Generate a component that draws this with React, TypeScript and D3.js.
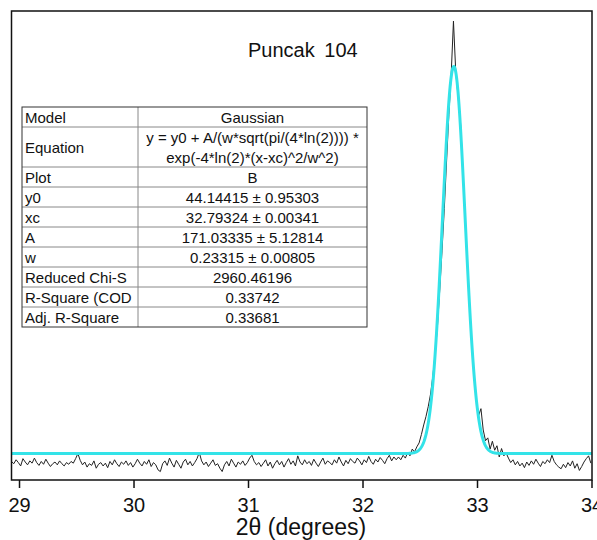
import React, { useMemo } from "react";
import * as d3 from "d3";

const width = 597;
const height = 540;

const chartTitle = "Puncak 104";
const xLabel = "2\u03b8 (degrees)";
const xTicks = [29, 30, 31, 32, 33, 34];

// measured pattern, 0.02 deg steps starting at 28.93
const twoThetaStart = 28.93;
const twoThetaStep = 0.02;

// 28.93 .. 32.29
const countsLow = [
  30, 26, 33, 28, 22, 35, 29, 24, 31, 27,
  36, 28, 23, 30, 25, 34, 27, 21, 26, 29,
  24, 31, 26, 22, 28, 25, 30, 27, 35, 44,
  32, 24, 29, 20, 26, 23, 31, 18, 25, 28,
  22, 27, 19, 30, 24, 33, 26, 21, 29, 25,
  31, 23, 28, 20, 26, 34, 27, 22, 30, 25,
  33, 21, 28, 24, 15, 12, 26, 31, 23, 36,
  27, 20, 32, 25, 18, 29, 34, 24, 30, 22,
  28, 35, 46, 31, 24, 29, 21, 27, 33, 23,
  26, 18, 12, 24, 30, 22, 34, 27, 20, 29,
  25, 31, 23, 28, 36, 41, 30, 24, 28, 21,
  27, 33, 22, 29, 18, 26, 32, 24, 30, 20,
  28, 35, 25, 31, 22, 40, 29, 24, 33, 26,
  30, 23, 34, 27, 21, 29, 36, 25, 31, 28,
  24, 33, 27, 38, 29, 22, 32, 26, 35, 30,
  27, 36, 31, 24, 33, 28, 39, 30, 25, 34,
  29, 37, 32, 26, 35, 41, 31, 38, 33,
];

// 32.31 .. 33.25
const countsPeak = [
  38, 33, 41, 36, 46, 40, 52, 47, 56, 63,
  78, 95, 110, 128, 150, 182, 222, 270, 335, 405,
  480, 565, 648, 718, 814, 724, 680, 640, 560, 470,
  385, 305, 238, 182, 140, 112, 124, 86, 67, 72,
  52, 66, 50, 58, 38, 53, 40, 45,
];

// 33.27 .. 33.99
const countsHigh = [
  36, 28, 33, 24, 30, 22, 27, 19, 29, 23,
  31, 25, 34, 27, 21, 30, 26, 33, 28, 41,
  30, 24, 20, 17, 25, 19, 28, 22, 31, 18,
  26, 14, 21, 29, 35, 40, 27,
];

// Gaussian fit results
const paramNames = ["y0", "xc", "A", "w"];
const paramValues = [44.14415, 32.79324, 171.03335, 0.23315];
const paramErrors = [0.95303, 0.00341, 5.12814, 0.00805];
const statNames = ["Reduced Chi-S", "R-Square (COD", "Adj. R-Square"];
const statValues = ["2960.46196", "0.33742", "0.33681"];

const font = "Arial, 'Liberation Sans', sans-serif";

export default function App() {
  const margin = { left: 11.5, right: 5, top: 11, bottom: 60 };
  const plotRight = width - margin.right;
  const plotBottom = height - margin.bottom;

  const x = d3.scaleLinear().domain([28.93, 34.0]).range([margin.left, plotRight]);
  const y = d3.scaleLinear().domain([-3, 832]).range([plotBottom, margin.top]);

  const counts = [...countsLow, ...countsPeak, ...countsHigh];
  const points = counts.map((c, i) => [twoThetaStart + i * twoThetaStep, c] as [number, number]);

  const [y0, xc, A, w] = paramValues;
  const fitPoints = useMemo(
    () =>
      d3.range(28.93, 34.001, 0.004).map((t) => {
        const v =
          y0 +
          (A / (w * Math.sqrt(Math.PI / (4 * Math.log(2))))) *
            Math.exp((-4 * Math.log(2) * (t - xc) ** 2) / w ** 2);
        return [t, v] as [number, number];
      }),
    []
  );

  const line = d3
    .line<[number, number]>()
    .x((d) => x(d[0]))
    .y((d) => y(d[1]));

  // table rows
  const rows: { label: string; value: string[]; h: number }[] = [
    { label: "Model", value: ["Gaussian"], h: 20 },
    {
      label: "Equation",
      value: ["y = y0 + A/(w*sqrt(pi/(4*ln(2)))) *", "exp(-4*ln(2)*(x-xc)^2/w^2)"],
      h: 40,
    },
    { label: "Plot", value: ["B"], h: 20 },
    ...paramNames.map((n, i) => ({
      label: n,
      value: [`${paramValues[i].toFixed(5)} \u00b1 ${paramErrors[i].toFixed(5)}`],
      h: 20,
    })),
    ...statNames.map((n, i) => ({ label: n, value: [statValues[i]], h: 20 })),
  ];
  const tLeft = 22;
  const tRight = 367;
  const tDiv = 138;
  const tTop = 107;
  let acc = tTop;
  const rowPos = rows.map((r) => {
    const top = acc;
    acc += r.h;
    return { ...r, top };
  });
  const tBottom = acc;

  return (
    <div style={{ position: "absolute", left: 0, top: 0 }}>
      <svg width={width} height={height} style={{ display: "block", background: "#fff" }}>
        <defs>
          <clipPath id="plotClip">
            <rect x={margin.left} y={margin.top} width={plotRight - margin.left} height={plotBottom - margin.top} />
          </clipPath>
          <clipPath id="labelClip">
            <rect x={tLeft} y={tTop} width={tDiv - tLeft - 1} height={400} />
          </clipPath>
        </defs>
        <rect x={0} y={0} width={width} height={height} fill="#fff" />

        <g clipPath="url(#plotClip)">
          <path d={line(points) || ""} fill="none" stroke="#222" strokeWidth={1} />
          <path d={line(fitPoints) || ""} fill="none" stroke="#33e3e8" strokeWidth={3} />
        </g>

        {/* frame */}
        <rect
          x={margin.left}
          y={margin.top}
          width={plotRight - margin.left}
          height={plotBottom - margin.top}
          fill="none"
          stroke="#111"
          strokeWidth={1.5}
        />

        {/* x axis */}
        <g>
          {xTicks.map((t) => (
            <g key={t} transform={`translate(${x(t)},0)`}>
              <line y1={plotBottom} y2={plotBottom + 8} stroke="#111" strokeWidth={1.5} />
              <text y={plotBottom + 32} textAnchor="middle" fontFamily={font} fontSize={20} fill="#111">
                {t}
              </text>
            </g>
          ))}
          <text x={301} y={535} textAnchor="middle" fontFamily={font} fontSize={23} fill="#111">
            {xLabel}
          </text>
        </g>

        <text x={248} y={57} fontFamily={font} fontSize={20} fill="#111" wordSpacing={4}>
          {chartTitle}
        </text>

        {/* fit table */}
        <g fontFamily={font} fontSize={15} fill="#111">
          <rect x={tLeft} y={tTop} width={tRight - tLeft} height={tBottom - tTop} fill="#fff" stroke="none" />
          {rowPos.map((r, i) => (
            <g key={r.label}>
              {i > 0 && <line x1={tLeft} x2={tRight} y1={r.top} y2={r.top} stroke="#888" strokeWidth={1} />}
              <text x={tLeft + 3} y={r.top + r.h / 2 + 5.5} clipPath="url(#labelClip)">
                {r.label}
              </text>
              {r.value.map((v, j) => (
                <text
                  key={j}
                  x={(tDiv + tRight) / 2}
                  y={r.top + (r.h / r.value.length) * (j + 0.5) + 5.5}
                  textAnchor="middle"
                >
                  {v}
                </text>
              ))}
            </g>
          ))}
          <line x1={tDiv} x2={tDiv} y1={tTop} y2={tBottom} stroke="#888" strokeWidth={1} />
          <rect x={tLeft} y={tTop} width={tRight - tLeft} height={tBottom - tTop} fill="none" stroke="#333" strokeWidth={1} />
        </g>
      </svg>
    </div>
  );
}
